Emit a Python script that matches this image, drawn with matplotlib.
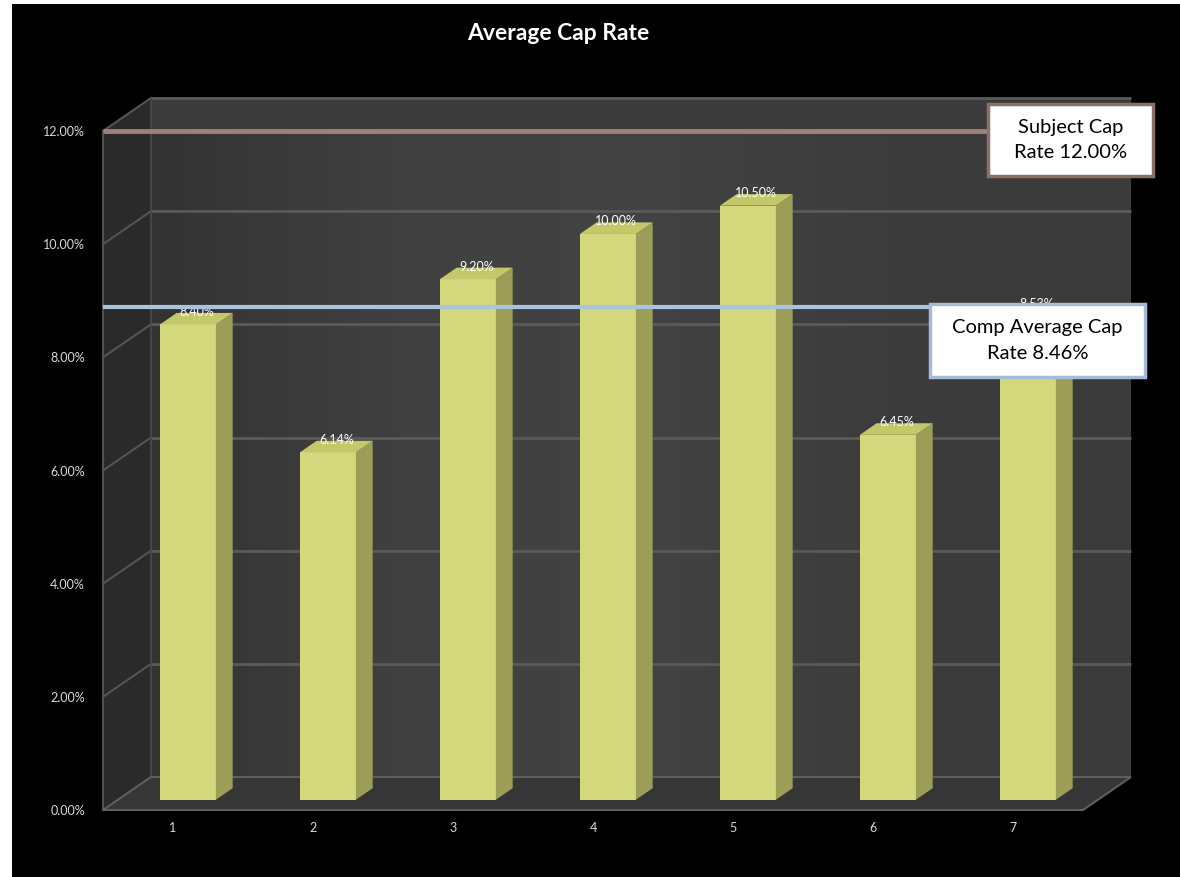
import matplotlib
matplotlib.use("Agg")
import matplotlib.pyplot as plt
import numpy as np
from matplotlib.patches import Polygon, Rectangle
from matplotlib.colors import LinearSegmentedColormap

plt.rcParams["font.family"] = ["Lato", "DejaVu Sans"]

# ---- data ----
title = "Average Cap Rate"
categories = ["1", "2", "3", "4", "5", "6", "7"]
cap_rates = [8.40, 6.14, 9.20, 10.00, 10.50, 6.45, 8.53]
y_ticks = [0, 2, 4, 6, 8, 10, 12]
subject_rate = 12.00
comp_average = 8.46
subject_label = "Subject Cap\nRate 12.00%"
comp_label = "Comp Average Cap\nRate 8.46%"

# ---- figure ----
W, H = 1180, 877
fig = plt.figure(figsize=(W / 100, H / 100), dpi=100, facecolor="white")
fig.patches.append(Rectangle((12 / W, 0), 1 - 12 / W, 1 - 4 / H,
                             transform=fig.transFigure, facecolor="black",
                             edgecolor="none", zorder=-10))

# front plane of the 3-D box
ax = fig.add_axes([103 / W, 1 - 810 / H, 980 / W, (810 - 131) / H])
x0, x1 = 0.5, len(categories) + 0.5
ax.set_xlim(x0, x1)
ax.set_ylim(0, 12)
ax.patch.set_visible(False)
for s in ax.spines.values():
    s.set_visible(False)

# depth offset of the back wall, in data units
DX = 48 / 140
DY = 33 / ((810 - 131) / 12)
ymax = y_ticks[-1]

def poly(pts, fc, ec="none", lw=0, z=1):
    p = Polygon(pts, closed=True, facecolor=fc, edgecolor=ec,
                linewidth=lw, zorder=z, clip_on=False)
    ax.add_patch(p)
    return p

# back wall with a soft horizontal shading
wall = poly([(x0 + DX, DY), (x1 + DX, DY), (x1 + DX, ymax + DY), (x0 + DX, ymax + DY)], "#3b3b3b", z=1)
shade = LinearSegmentedColormap.from_list("wall", ["#333333", "#404040", "#434343", "#3c3c3c", "#3a3a3a"])
img = ax.imshow(np.linspace(0, 1, 256)[None, :], cmap=shade, aspect="auto",
                extent=(x0 + DX, x1 + DX, DY, ymax + DY), zorder=1.1,
                interpolation="bilinear")
img.set_clip_path(wall)
ax.set_xlim(x0, x1)
ax.set_ylim(0, 12)

# side wall and floor
poly([(x0, 0), (x0 + DX, DY), (x0 + DX, ymax + DY), (x0, ymax)], "#2a2a2a", z=1.2)
poly([(x0, 0), (x1, 0), (x1 + DX, DY), (x0 + DX, DY)], "#363636", ec="#5e5e5e", lw=1.5, z=2)

# gridlines on back and side walls
for v in y_ticks[1:]:
    ax.plot([x0 + DX, x1 + DX], [v + DY, v + DY], color="#5a5a5a", lw=2,
            zorder=1.5, clip_on=False, solid_capstyle="butt")
    ax.plot([x0, x0 + DX], [v, v + DY], color="#555555", lw=1.5,
            zorder=1.5, clip_on=False)
ax.plot([x0, x0], [0, ymax], color="#505050", lw=1.5, zorder=1.6, clip_on=False)
ax.plot([x0 + DX, x0 + DX], [DY, ymax + DY], color="#4a4a4a", lw=1.2, zorder=1.6, clip_on=False)

# 3-D bars
F = 0.31    # depth of the bar front face
BD = 0.35   # bar depth
BW = 0.40   # bar width
front_c, side_c, top_c = "#d4d87c", "#9c9e57", "#c4c86b"
xs = list(range(1, len(categories) + 1))
ax.bar([x + F * DX for x in xs], cap_rates, bottom=F * DY, width=BW,
       color=front_c, edgecolor="none", zorder=3)
for x, v in zip(xs, cap_rates):
    xl = x - BW / 2 + F * DX
    xr = xl + BW
    yb = F * DY
    yt = v + F * DY
    poly([(xr, yb), (xr + BD * DX, yb + BD * DY), (xr + BD * DX, yt + BD * DY), (xr, yt)], side_c, z=3)
    poly([(xl, yt), (xr, yt), (xr + BD * DX, yt + BD * DY), (xl + BD * DX, yt + BD * DY)], top_c, z=3)
    ax.annotate(f"{v:.2f}%", (x + F * DX + BD * DX / 2, yt + BD * DY),
                xytext=(0, 0.8), textcoords="offset points", ha="center",
                va="center", fontsize=9, color="white", zorder=4,
                annotation_clip=False)

# axis labels
ax.set_yticks(y_ticks)
ax.set_yticklabels([f"{t:.2f}%" for t in y_ticks])
ax.set_xticks(xs)
ax.set_xticklabels(categories)
ax.tick_params(axis="y", length=0, pad=13, colors="#d9d9d9", labelsize=9)
ax.tick_params(axis="x", length=0, pad=9, colors="#d9d9d9", labelsize=9)

# subject cap rate line and callout
sb = (6.82, 11.21, 1.18, 1.27)
ax.plot([x0, sb[0]], [subject_rate, subject_rate], color="#9e817a", lw=3.5,
        zorder=5, clip_on=False, solid_capstyle="butt")
ax.add_patch(Rectangle(sb[:2], sb[2], sb[3], facecolor="white", edgecolor="#8c6f68",
                       lw=2.5, zorder=6, clip_on=False))
ax.text(sb[0] + sb[2] / 2, sb[1] + sb[3] / 2, subject_label, ha="center", va="center",
        fontsize=14.5, color="black", zorder=7, linespacing=1.6)

# comp average line and callout
cb = (6.407, 7.66, 1.536, 1.28)
ya = comp_average + 0.75 * DY
ax.plot([x0, cb[0]], [ya, ya], color="#a9c4e0", lw=3, zorder=5, clip_on=False,
        solid_capstyle="butt")
ax.add_patch(Rectangle(cb[:2], cb[2], cb[3], facecolor="white", edgecolor="#a3bcd8",
                       lw=2.5, zorder=6, clip_on=False))
ax.text(cb[0] + cb[2] / 2, cb[1] + cb[3] / 2, comp_label, ha="center", va="center",
        fontsize=14.5, color="black", zorder=7, linespacing=1.6)

fig.text(558 / W, 1 - 33 / H, title, ha="center", va="center", fontsize=16.5,
         fontweight="bold", color="white")

fig.savefig("out.png", dpi=100, facecolor=fig.get_facecolor())
